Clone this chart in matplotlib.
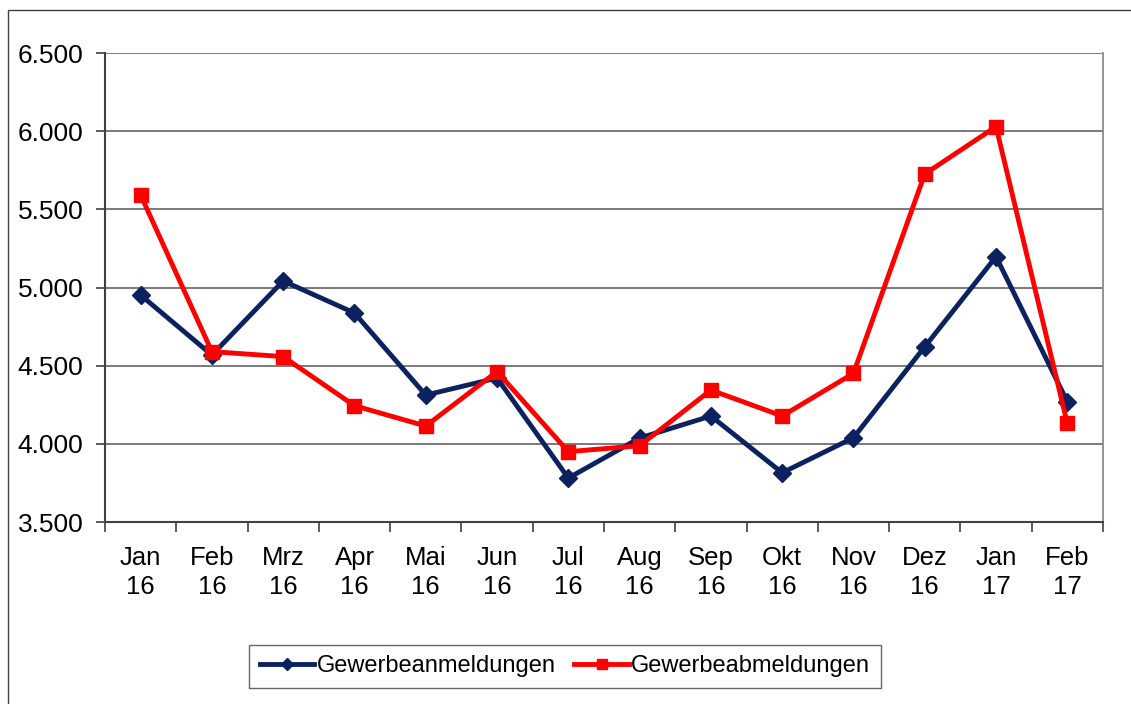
import matplotlib
matplotlib.use("Agg")
import matplotlib.pyplot as plt
from matplotlib.patches import Rectangle
from matplotlib.ticker import FuncFormatter, FixedLocator, NullFormatter

plt.rcParams["font.family"] = ["Liberation Sans", "DejaVu Sans"]

months = ["Jan\n16", "Feb\n16", "Mrz\n16", "Apr\n16", "Mai\n16", "Jun\n16", "Jul\n16",
          "Aug\n16", "Sep\n16", "Okt\n16", "Nov\n16", "Dez\n16", "Jan\n17", "Feb\n17"]
anmeldungen = [4952, 4568, 5042, 4837, 4312, 4421, 3781, 4037, 4178, 3815, 4039, 4621, 5197, 4270]
abmeldungen = [5592, 4590, 4558, 4244, 4114, 4462, 3950, 3988, 4344, 4178, 4451, 5726, 6029, 4131]

fig = plt.figure(figsize=(11.31, 7.04), dpi=100)
ax = fig.add_axes([0.0928, 0.2585, 0.8824, 0.6662])

# outer chart border (only top and left visible in the reference)
fig.patches.append(Rectangle((8 / 1131, -0.1), 1.2, 1 - 10 / 704 + 0.1,
                             transform=fig.transFigure, fill=False,
                             edgecolor="#404040", linewidth=1.0))

x = list(range(len(months)))
navy = "#0b2160"
red = "#ff0000"
ax.plot(x, anmeldungen, color=navy, linewidth=3.5, marker="D", markersize=9,
        label="Gewerbeanmeldungen", zorder=3)
ax.plot(x, abmeldungen, color=red, linewidth=3.5, marker="s", markersize=10,
        label="Gewerbeabmeldungen", zorder=4)

ax.set_xlim(-0.5, len(months) - 0.5)
ax.set_ylim(3500, 6500)
ax.set_yticks(range(3500, 6501, 500))
ax.yaxis.set_major_formatter(FuncFormatter(lambda v, p: f"{int(v):,}".replace(",", ".")))
ax.grid(axis="y", color="#707070", linewidth=1.3)
ax.set_axisbelow(True)

# category labels centred, tick marks on category boundaries
ax.set_xticks(x)
ax.set_xticklabels(months, linespacing=1.3)
ax.tick_params(axis="x", which="major", length=0, pad=17, labelsize=18.5)
ax.xaxis.set_minor_locator(FixedLocator([i - 0.5 for i in range(len(months) + 1)]))
ax.xaxis.set_minor_formatter(NullFormatter())
ax.tick_params(axis="x", which="minor", length=7, width=1.2, color="#404040")
ax.tick_params(axis="y", length=6.5, width=1.2, color="#404040", labelsize=19, pad=9)

for side in ["left", "bottom"]:
    ax.spines[side].set_color("#404040")
    ax.spines[side].set_linewidth(1.5)
for side in ["top", "right"]:
    ax.spines[side].set_color("#8c8c8c")
    ax.spines[side].set_linewidth(1.3)
ax.spines["top"].set_visible(False)

leg = fig.legend(loc="center", bbox_to_anchor=(0.4996, 0.0533), ncol=2, fontsize=17,
                 frameon=True, fancybox=False, edgecolor="#404040",
                 handlelength=2.3, handletextpad=0.1, columnspacing=0.8,
                 borderpad=0.45, markerscale=0.7)
leg.get_frame().set_linewidth(1.0)

fig.savefig("out.png", dpi=100)
